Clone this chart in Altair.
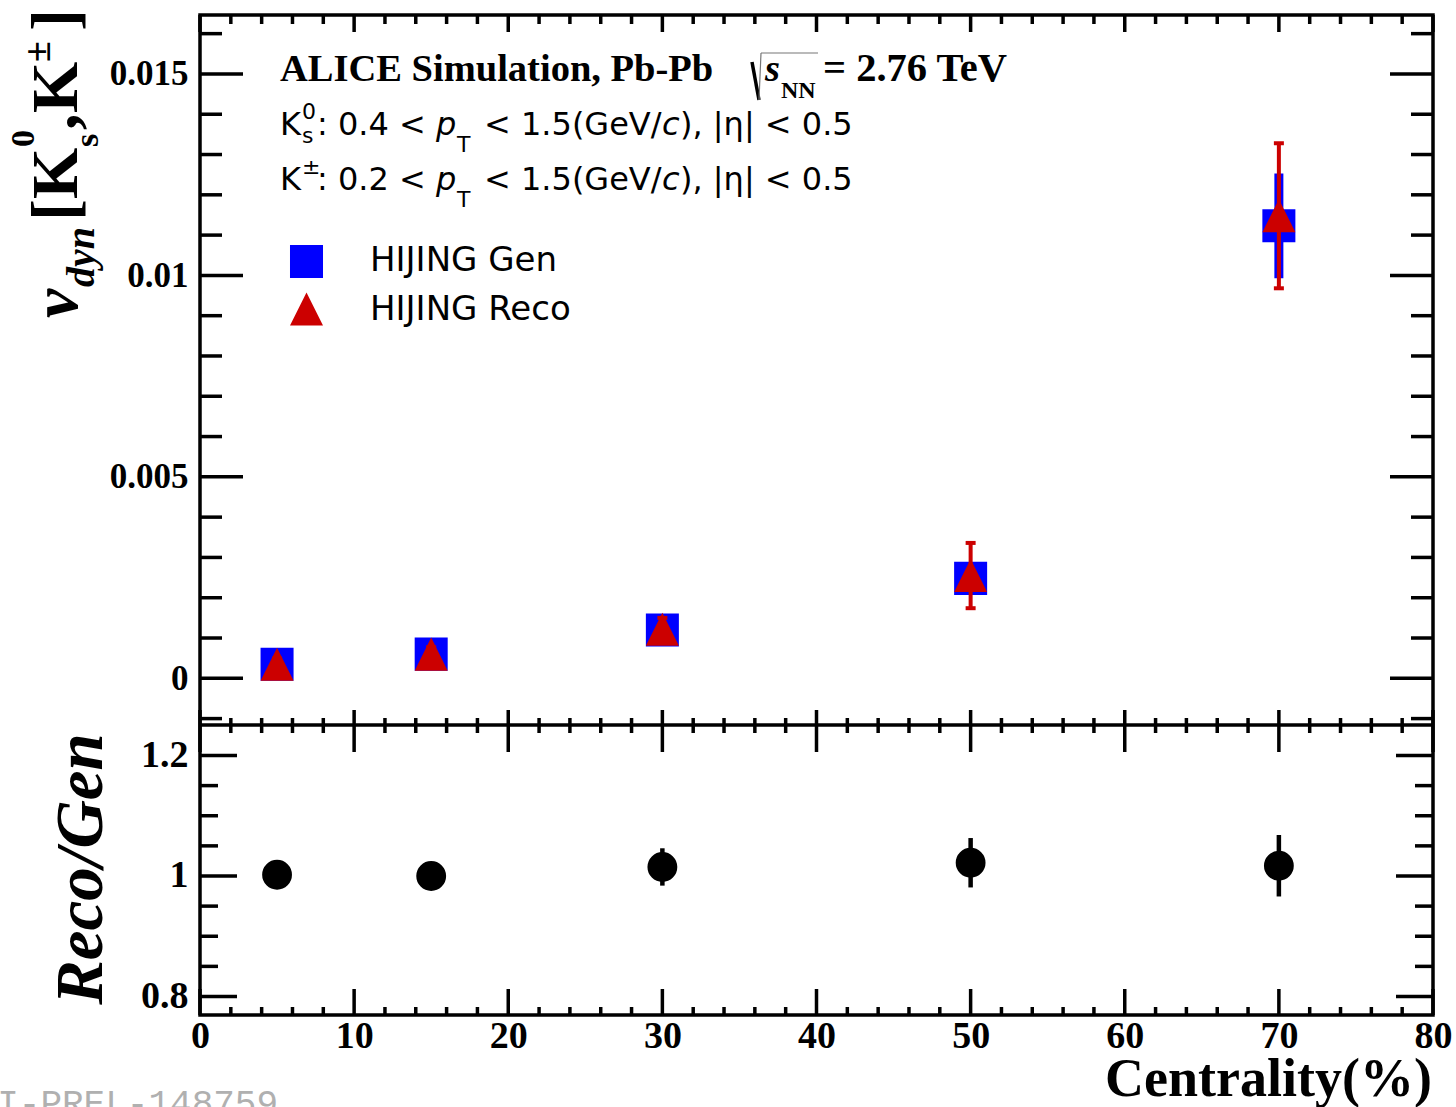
import altair as alt
import pandas as pd

# ---------------- data ----------------
centrality = [5, 15, 30, 50, 70]

# nu_dyn[K0s, K+-], HIJING generator level
nu_gen = [0.00035, 0.00060, 0.00120, 0.00248, 0.01123]
nu_gen_err = [0.00012, 0.00015, 0.00025, 0.00038, 0.00130]

# nu_dyn[K0s, K+-], HIJING after reconstruction
nu_reco = [0.00035, 0.00060, 0.00122, 0.00255, 0.01148]
nu_reco_err = [0.00014, 0.00017, 0.00028, 0.00081, 0.00180]

# Reco / Gen ratio
ratio = [1.002, 1.000, 1.015, 1.022, 1.017]
ratio_err = [0.012, 0.014, 0.031, 0.041, 0.051]

# axis divisions
x_major = [0, 10, 20, 30, 40, 50, 60, 70, 80]
x_minor = [2, 4, 6, 8, 12, 14, 16, 18, 22, 24, 26, 28, 32, 34, 36, 38,
           42, 44, 46, 48, 52, 54, 56, 58, 62, 64, 66, 68, 72, 74, 76, 78]
top_major = [0, 0.005, 0.01, 0.015]
top_minor = [-0.001, 0.001, 0.002, 0.003, 0.004, 0.006, 0.007, 0.008, 0.009,
             0.011, 0.012, 0.013, 0.014, 0.016]
bot_major = [0.8, 1.0, 1.2]
bot_minor = [0.85, 0.9, 0.95, 1.05, 1.1, 1.15]

# ---------------- layout / style ----------------
W, H = 1233, 1000          # full frame (both pads)
SPLIT = 710                # border between upper and ratio pad
BLUE = "#0000ff"
RED = "#cc0000"
SERIF = "Liberation Serif"
SANS = "DejaVu Sans"
LW = 3.5
TRI = "M-1,1L0,-1L1,1Z"

x_scale = alt.Scale(domain=[0, 80], nice=False, zero=False)
top_scale = alt.Scale(domain=[-0.001159, 0.016463], range=[SPLIT, 0], nice=False, zero=False)
bot_scale = alt.Scale(domain=[0.7693, 1.2506], range=[H, SPLIT], nice=False, zero=False)

x_axis = alt.Axis(orient="bottom", values=x_major, format="d", title=None, ticks=False,
                  tickSize=0, domain=False, grid=False, labelFont=SERIF,
                  labelFontWeight="bold", labelFontSize=38, labelColor="black",
                  labelPadding=2, labelFlush=False, labelOverlap=False)
top_axis = alt.Axis(orient="left", values=top_major, format="~g", title=None, ticks=False,
                    tickSize=0, domain=False, grid=False, labelFont=SERIF,
                    labelFontWeight="bold", labelFontSize=35, labelColor="black",
                    labelPadding=12, labelFlush=False, labelOverlap=False)
bot_axis = alt.Axis(orient="left", values=bot_major, format="~g", title=None, ticks=False,
                    tickSize=0, domain=False, grid=False, labelFont=SERIF,
                    labelFontWeight="bold", labelFontSize=38, labelColor="black",
                    labelPadding=12, labelFlush=False, labelOverlap=False)


def X(field):
    return alt.X(f"{field}:Q", scale=x_scale, axis=x_axis)


def Yt(field):
    return alt.Y(f"{field}:Q", scale=top_scale, axis=top_axis)


def Yb(field):
    return alt.Y(f"{field}:Q", scale=bot_scale, axis=bot_axis)


one = pd.DataFrame({"k": [0]})

nu_df = pd.DataFrame({
    "c": centrality,
    "gen": nu_gen,
    "gen_lo": [v - e for v, e in zip(nu_gen, nu_gen_err)],
    "gen_hi": [v + e for v, e in zip(nu_gen, nu_gen_err)],
    "reco": nu_reco,
    "reco_lo": [v - e for v, e in zip(nu_reco, nu_reco_err)],
    "reco_hi": [v + e for v, e in zip(nu_reco, nu_reco_err)],
})
cap_df = pd.DataFrame({
    "c": centrality + centrality,
    "v": list(nu_df["reco_lo"]) + list(nu_df["reco_hi"]),
})
ratio_df = pd.DataFrame({
    "c": centrality,
    "r": ratio,
    "lo": [v - e for v, e in zip(ratio, ratio_err)],
    "hi": [v + e for v, e in zip(ratio, ratio_err)],
})


# ---------------- tick marks (ROOT style, pointing inwards) ----------------
def x_ticks(values, y0, y1):
    return alt.Chart(pd.DataFrame({"v": values})).mark_rule(
        color="black", strokeWidth=LW).encode(x=X("v"), y=alt.value(y0), y2=alt.value(y1))


def y_ticks(values, enc, length):
    df = pd.DataFrame({"v": values})
    left = alt.Chart(df).mark_rule(color="black", strokeWidth=LW).encode(
        y=enc("v"), x=alt.value(0), x2=alt.value(length))
    right = alt.Chart(df).mark_rule(color="black", strokeWidth=LW).encode(
        y=enc("v"), x=alt.value(W), x2=alt.value(W - length))
    return [left, right]


xtick_layers = [
    x_ticks(x_major, H, H - 26), x_ticks(x_minor, H, H - 8),
    x_ticks(x_major, SPLIT - 15, SPLIT + 27), x_ticks(x_minor, SPLIT - 7, SPLIT + 8),
    x_ticks(x_major, 0, 17), x_ticks(x_minor, 0, 9),
]

separator = alt.Chart(one).mark_rule(color="black", strokeWidth=LW).encode(
    x=alt.value(0), x2=alt.value(W), y=alt.value(SPLIT))

# ---------------- upper pad: nu_dyn ----------------
blue_bars = alt.Chart(nu_df).mark_rule(color=BLUE, strokeWidth=9).encode(
    x=X("c"), y=Yt("gen_lo"), y2="gen_hi:Q")
blue_sq = alt.Chart(nu_df).mark_point(shape="square", filled=True, size=1090,
                                      color=BLUE, opacity=1).encode(x=X("c"), y=Yt("gen"))
red_bars = alt.Chart(nu_df).mark_rule(color=RED, strokeWidth=4).encode(
    x=X("c"), y=Yt("reco_lo"), y2="reco_hi:Q")
red_caps = alt.Chart(cap_df).mark_tick(orient="horizontal", size=10, thickness=4,
                                       color=RED, opacity=1).encode(x=X("c"), y=Yt("v"))
red_tri = alt.Chart(nu_df).mark_point(shape=TRI, filled=True, size=1090,
                                      color=RED, opacity=1).encode(x=X("c"), y=Yt("reco"))

top = alt.layer(*y_ticks(top_major, Yt, 43), *y_ticks(top_minor, Yt, 22),
                blue_bars, blue_sq, red_bars, red_caps, red_tri)

# ---------------- lower pad: Reco/Gen ----------------
ratio_bars = alt.Chart(ratio_df).mark_rule(color="black", strokeWidth=4.5).encode(
    x=X("c"), y=Yb("lo"), y2="hi:Q")
ratio_pts = alt.Chart(ratio_df).mark_point(shape="circle", filled=True, size=890,
                                           color="black", opacity=1).encode(x=X("c"), y=Yb("r"))

bottom = alt.layer(*y_ticks(bot_major, Yb, 37), *y_ticks(bot_minor, Yb, 18),
                   ratio_bars, ratio_pts)


# ---------------- text ----------------
def text(s, x, y, size, font=SANS, weight="normal", style="normal", angle=0,
         align="left", color="black"):
    return alt.Chart(one).mark_text(
        text=s, font=font, fontSize=size, fontWeight=weight, fontStyle=style,
        angle=angle, align=align, baseline="alphabetic", color=color,
    ).encode(x=alt.value(x), y=alt.value(y))


def seg(x0, y0, x1, y1, width, color="black"):
    return alt.Chart(one).mark_rule(color=color, strokeWidth=width).encode(
        x=alt.value(x0), y=alt.value(y0), x2=alt.value(x1), y2=alt.value(y1))


header = [
    text("ALICE Simulation, Pb-Pb", 80, 66, 38.5, font=SERIF, weight="bold"),
    seg(552, 47, 559, 85, 3.5),
    seg(559, 85, 561, 38, 1.2, "#777777"),
    seg(561, 38, 618, 38, 1.2, "#777777"),
    text("s", 565, 66, 38.5, font=SERIF, weight="bold", style="italic"),
    text("NN", 581, 83, 24, font=SERIF, weight="bold"),
    text("= 2.76 TeV", 623, 66, 40.5, font=SERIF, weight="bold"),
]


def cut_line(sup, rng, y):
    return [
        text("K", 80, y, 32),
        text(sup, 102, y - 16, 22),
        text(rng, 117, y, 32),
        text("p", 236, y, 32, style="italic"),
        text("T", 257, y + 17, 22),
        text("< 1.5(GeV/", 284, y, 32),
        text("c", 462, y, 32, style="italic"),
        text("), |η| < 0.5", 480, y, 32),
    ]


cuts = cut_line("0", ": 0.4 <", 120) + [text("s", 102, 128, 22)] + cut_line("±", ": 0.2 <", 175)

legend = [
    alt.Chart(one).mark_point(shape="square", filled=True, size=1090, color=BLUE,
                              opacity=1).encode(x=alt.value(106.5), y=alt.value(246.5)),
    alt.Chart(one).mark_point(shape=TRI, filled=True, size=1090, color=RED,
                              opacity=1).encode(x=alt.value(106.5), y=alt.value(294)),
    text("HIJING Gen", 170, 256, 34),
    text("HIJING Reco", 170, 305, 34),
]

# rotated y title of the upper pad: nu_dyn[K0s,K+-]
ytitle = [
    text("ν", -123, 303, 66, font=SERIF, weight="bold", style="italic", angle=270),
    text("dyn", -106, 272, 40, font=SERIF, weight="bold", style="italic", angle=270),
    text("[", -123, 206, 66, font=SERIF, weight="bold", angle=270),
    text("K", -123, 184, 66, font=SERIF, weight="bold", angle=270),
    text("0", -166, 132, 34, font=SERIF, weight="bold", angle=270),
    text("s", -102, 132, 34, font=SERIF, weight="bold", angle=270),
    text(",", -123, 115, 66, font=SERIF, weight="bold", angle=270),
    text("K", -123, 98, 66, font=SERIF, weight="bold", angle=270),
    text("±", -150, 47, 38, font=SERIF, weight="bold", angle=270),
    text("]", -123, 16, 66, font=SERIF, weight="bold", angle=270),
]

titles = [
    text("Reco/Gen", -98, 854, 67, font=SERIF, weight="bold", style="italic",
         angle=270, align="center"),
    text("Centrality(%)", 1232, 1081, 54, font=SERIF, weight="bold", align="right"),
    text("ALI-PREL-148759", -246, 1100, 36, font="Liberation Mono", color="#b0b0b0"),
]

chart = alt.layer(
    *xtick_layers, separator, top, bottom, *header, *cuts, *legend, *ytitle, *titles
).resolve_scale(y="independent").properties(
    width=W, height=H,
    autosize=alt.AutoSizeParams(type="none"),
    padding={"left": 200, "top": 15, "right": 23, "bottom": 92},
    background="white",
).configure_view(stroke="black", strokeWidth=LW)

chart.save("out.html", embed_options={"renderer": "svg", "actions": False})
